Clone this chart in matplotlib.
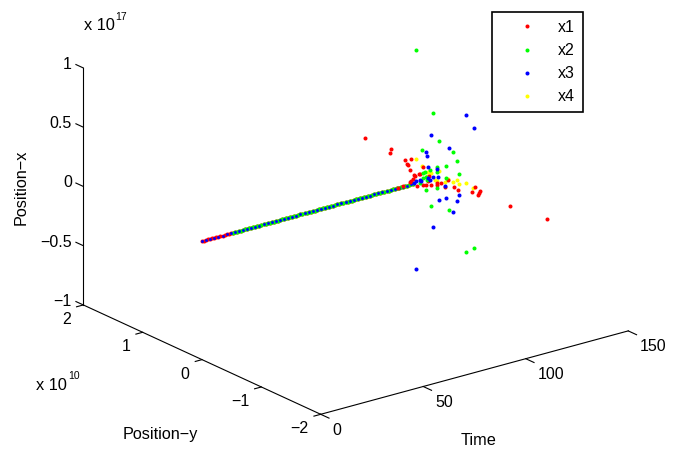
import matplotlib
matplotlib.use('Agg')
import matplotlib.pyplot as plt
from mpl_toolkits.mplot3d import proj3d

plt.rcParams['font.family'] = ['Liberation Sans', 'DejaVu Sans']

# the long straight run, all series sit on y=0, x=0 here
line_time = list(range(0, 104))
line_time_even = list(range(0, 104, 2))

x1_time = [79.5, 92.0, 91.8, 98.8, 102.1, 99.8, 100.6, 101.5, 108.0, 105.8, 106.4, 103.2, 104.0, 102.7, 110.8, 101.9,
           119.8, 116.5, 114.4, 110.3, 109.2, 111.9, 108.0, 104.7, 101.5, 98.2, 95.7, 114.8, 118.3, 122.8, 125.0,
           131.5, 133.3, 135.7, 135.2, 134.5, 150.0, 139.1]
x1_pos_y = [0] * 37 + [-1]
x1_pos_x = [0.500, 0.348, 0.315, 0.221, 0.212, 0.179, 0.173, 0.123, 0.118, 0.074, 0.063, 0.075, 0.058, 0.042, 0.032,
            0.026, -0.046, -0.054, -0.050, -0.014, -0.037, -0.055, -0.037, -0.024, 0.020, 0.001, -0.001, -0.065,
            -0.101, -0.123, -0.155, -0.206, -0.169, -0.218, -0.229, -0.242, -0.408, -0.239]

x2_time = [133.3, 112.7, 115.6, 107.5, 122.2, 124.5, 119.0, 114.8, 114.8, 111.2, 125.2, 108.0, 108.9, 118.9, 107.6,
           109.2, 109.9, 106.3, 114.4, 109.2, 111.6, 120.3, 132.5, 128.9]
x2_pos_y = [1] + [0] * 23
x2_pos_x = [0.759, 0.552, 0.305, 0.264, 0.176, 0.095, 0.073, 0.084, 0.045, 0.081, -0.020, 0.067, 0.072, -0.028, 0.027,
            0.028, -0.003, -0.009, -0.092, -0.077, -0.228, -0.304, -0.677, -0.693]

x3_time = [128.9, 132.5, 111.6, 120.3, 109.2, 109.7, 110.0, 114.4, 112.7, 114.9, 110.3, 111.1, 106.3, 106.7, 104.3,
           103.4, 118.6, 125.2, 119.0, 115.6, 124.5, 122.2, 112.7, 104.5]
x3_pos_y = [0] * 24
x3_pos_x = [0.457, 0.336, 0.374, 0.225, 0.236, 0.203, 0.112, 0.068, 0.014, -0.001, 0.014, -0.009, 0.019, 0.006, 0.015,
            0.006, -0.095, -0.195, -0.192, -0.199, -0.243, -0.327, -0.410, -0.725]

x4_time = [104.5, 107.5, 115.6, 110.2, 113.6, 120.1, 122.2, 124.5, 125.2, 128.9, 132.3, 118.6, 114.4, 109.9, 111.9]
x4_pos_y = [0] * 15
x4_pos_x = [0.200, 0.132, 0.052, 0.063, -0.015, -0.043, -0.074, -0.071, -0.108, -0.117, -0.170, -0.061, -0.033,
            0.030, 0.054]

time_ticks = [0, 50, 100, 150]
time_labels = ['0', '50', '100', '150']
y_ticks = [-2, -1, 0, 1, 2]
y_labels = ['\u22122', '\u22121', '0', '1', '2']
x_ticks = [-1, -0.5, 0, 0.5, 1]
x_labels = ['\u22121', '\u22120.5', '0', '0.5', '1']

fig = plt.figure(figsize=(6.84, 4.5), dpi=100)
ax = fig.add_axes([124.7 / 684, 19.5 / 450, 450 / 684, 1.0], projection='3d', proj_type='ortho')
ax.computed_zorder = False
ax.set_box_aspect((387.7, 390, 253.4), zoom=1.306)
ax.view_init(elev=20.7, azim=-127.5)
ax.set_xlim(0, 150)
ax.set_ylim(-2, 2)
ax.set_zlim(-1, 1)
ax.set_xticks([])
ax.set_yticks([])
ax.set_zticks([])
ax.set_axis_off()

ms = 2.9
fs = 11.5
red = '#ff0000'
green = '#00ff00'
blue = '#0000ff'
yellow = '#ffff00'


def dots(t, y, z, color, size=ms, order=2):
    ax.plot(t, y, z, ls='none', marker='o', ms=size, mew=0, color=color, zorder=order, clip_on=False)


# the run first, blue a bit smaller so the green shows between
dots(line_time, [0] * len(line_time), [0] * len(line_time), red, order=2)
dots(line_time[15:], [0] * len(line_time[15:]), [0] * len(line_time[15:]), green, order=2.1)
dots(line_time_even, [0] * len(line_time_even), [0] * len(line_time_even), blue, size=2.1, order=2.2)

dots(x4_time, x4_pos_y, x4_pos_x, yellow, order=3)
dots(x1_time, x1_pos_y, x1_pos_x, red, order=4)
dots(x2_time, x2_pos_y, x2_pos_x, green, order=5)
dots(x3_time, x3_pos_y, x3_pos_x, blue, order=6)

# box edges, same three as the original
lw = 0.8
ax.plot([0, 150], [-2, -2], [-1, -1], color='k', lw=lw, clip_on=False)
ax.plot([0, 0], [-2, 2], [-1, -1], color='k', lw=lw, clip_on=False)
ax.plot([0, 0], [2, 2], [-1, 1], color='k', lw=lw, clip_on=False)


def tick_text(t, y, z, s, ha):
    # 2d text at the projected spot of a 3d point
    px, py, _ = proj3d.proj_transform(t, y, z, ax.get_proj())
    ax.text2D(px, py, s, transform=ax.transData, fontsize=fs, ha=ha, va='center', clip_on=False)


for t, s in zip(time_ticks, time_labels):
    ax.plot([t, t], [-2, -2.14], [-1, -1], color='k', lw=lw, clip_on=False)
    tick_text(t, -2.2, -1.089, s, 'left')
for v, s in zip(y_ticks, y_labels):
    ax.plot([0, -3.3], [v, v], [-1, -1], color='k', lw=lw, clip_on=False)
    tick_text(-6, v, -1.095, s, 'right')
for v, s in zip(x_ticks, x_labels):
    ax.plot([0, 0], [2, 2.125], [v, v], color='k', lw=lw, clip_on=False)
    tick_text(0, 2.195, v - 0.015, s, 'right')


def label(px, py, s, **kw):
    fig.text(px / 684, 1 - py / 450, s, fontsize=kw.pop('fontsize', 11.7), ha='center', va='center', **kw)


label(21.5, 187, 'Position\u2212x', rotation=90)
label(160, 435, 'Position\u2212y')
label(479, 440.5, 'Time')
label(99, 25.7, 'x 10', fontsize=11.8)
label(121.5, 16.7, '17', fontsize=7.5)
label(51, 385, 'x 10', fontsize=11.8)
label(74, 376, '10', fontsize=7.5)

handles = [plt.Line2D([], [], ls='none', marker='o', ms=ms, mew=0, color=c) for c in [red, green, blue, yellow]]
leg = fig.legend(handles, ['x1', 'x2', 'x3', 'x4'], loc='upper left',
                 bbox_to_anchor=(492 / 684, 1 - 12 / 450), fontsize=fs, frameon=True, fancybox=False,
                 framealpha=1, edgecolor='black', borderpad=0.5, labelspacing=0.51, handletextpad=0.25,
                 handlelength=3.375, borderaxespad=0)
leg.get_frame().set_linewidth(1.2)

fig.savefig('out.png', dpi=100)
